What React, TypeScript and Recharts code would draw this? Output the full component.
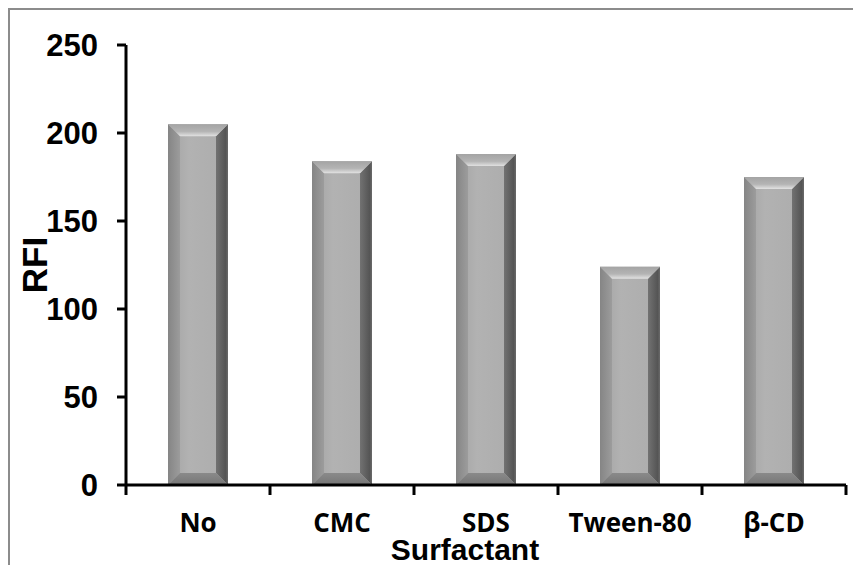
import React from 'react';
import { BarChart, Bar, XAxis, YAxis } from 'recharts';

const categories = ['No', 'CMC', 'SDS', 'Tween-80', 'β-CD'];
const rfiValues = [205, 184, 188, 124, 175];
const yTicks = [0, 50, 100, 150, 200, 250];

const data = categories.map((name, i) => ({ name, rfi: rfiValues[i] }));

const BevelBar = (props: any) => {
  const { x, y, width, height } = props;
  if (!height || height <= 0) return null;
  const b = Math.min(12, width / 2, height / 2);
  const x2 = x + width;
  const y2 = y + height;
  return (
    <g>
      <rect x={x} y={y} width={width} height={height} fill="url(#gCenter)" />
      <polygon points={`${x},${y} ${x + b},${y + b} ${x + b},${y2 - b} ${x},${y2}`} fill="url(#gLeft)" />
      <polygon points={`${x2},${y} ${x2 - b},${y + b} ${x2 - b},${y2 - b} ${x2},${y2}`} fill="url(#gRight)" />
      <polygon points={`${x},${y2} ${x + b},${y2 - b} ${x2 - b},${y2 - b} ${x2},${y2}`} fill="url(#gBottom)" />
      <polygon points={`${x},${y} ${x2},${y} ${x2 - b},${y + b} ${x + b},${y + b}`} fill="url(#gTop)" />
    </g>
  );
};

const XTick = (props: any) => {
  const { x, y, payload, index, visibleTicksCount } = props;
  const off = payload && typeof payload.offset === 'number' && payload.offset > 0 ? payload.offset : 72;
  const axisY = y - 29;
  return (
    <g>
      <line x1={x - off} y1={axisY} x2={x - off} y2={axisY + 10} stroke="#000" strokeWidth={3} />
      {index === visibleTicksCount - 1 && (
        <line x1={x + off} y1={axisY} x2={x + off} y2={axisY + 10} stroke="#000" strokeWidth={3} />
      )}
      <text
        x={x}
        y={y}
        dy="0.71em"
        textAnchor="middle"
        fontFamily="'Open Sans', sans-serif"
        fontWeight="bold"
        fontSize={26}
        fill="#000"
      >
        {payload.value}
      </text>
    </g>
  );
};

export default function App() {
  return (
    <div
      style={{
        position: 'absolute',
        left: 0,
        top: 0,
        width: 853,
        height: 565,
        overflow: 'hidden',
        background: '#fff',
      }}
    >
      <div
        style={{
          position: 'absolute',
          left: 8,
          top: 8,
          width: 900,
          height: 620,
          border: '2px solid #8c8c8c',
          boxSizing: 'border-box',
        }}
      />
      <div style={{ position: 'absolute', left: 0, top: 0 }}>
        <BarChart
          width={853}
          height={565}
          data={data}
          margin={{ top: 45, right: 7, bottom: 0, left: 0 }}
          barSize={60}
        >
          <defs>
            <linearGradient id="gCenter" x1="0" y1="0" x2="1" y2="0">
              <stop offset="0" stopColor="#a2a2a2" />
              <stop offset="0.35" stopColor="#b2b2b2" />
              <stop offset="1" stopColor="#acacac" />
            </linearGradient>
            <linearGradient id="gLeft" x1="0" y1="0" x2="1" y2="0">
              <stop offset="0" stopColor="#858585" />
              <stop offset="1" stopColor="#9c9c9c" />
            </linearGradient>
            <linearGradient id="gRight" x1="0" y1="0" x2="1" y2="0">
              <stop offset="0" stopColor="#727272" />
              <stop offset="0.8" stopColor="#555555" />
              <stop offset="1" stopColor="#6a6a6a" />
            </linearGradient>
            <linearGradient id="gBottom" x1="0" y1="0" x2="0" y2="1">
              <stop offset="0" stopColor="#8a8a8a" />
              <stop offset="1" stopColor="#767676" />
            </linearGradient>
            <linearGradient id="gTop" x1="0" y1="0" x2="0" y2="1">
              <stop offset="0" stopColor="#a4a4a4" />
              <stop offset="0.6" stopColor="#b4b4b4" />
              <stop offset="1" stopColor="#e2e2e2" />
            </linearGradient>
          </defs>
          <XAxis
            dataKey="name"
            height={80}
            axisLine={{ stroke: '#000', strokeWidth: 3 }}
            tickLine={false}
            tickSize={10}
            tickMargin={19}
            interval={0}
            tick={<XTick />}
            label={{
              content: () => (
                <text
                  x={465}
                  y={560}
                  textAnchor="middle"
                  fontFamily="'Liberation Sans', Arial, sans-serif"
                  fontWeight="bold"
                  fontSize={30}
                  fill="#000"
                >
                  Surfactant
                </text>
              ),
            }}
          />
          <YAxis
            width={126}
            domain={[0, 250]}
            ticks={yTicks}
            interval={0}
            axisLine={{ stroke: '#000', strokeWidth: 3 }}
            tickLine={{ stroke: '#000', strokeWidth: 3 }}
            tickSize={9}
            tickMargin={19}
            tick={{
              fontFamily: "'Liberation Sans', Arial, sans-serif",
              fontWeight: 'bold',
              fontSize: 31,
              fill: '#000',
            }}
            label={{
              content: () => (
                <text
                  x={47}
                  y={265}
                  transform="rotate(-90 47 265)"
                  textAnchor="middle"
                  fontFamily="'Liberation Sans', Arial, sans-serif"
                  fontWeight="bold"
                  fontSize={35}
                  fill="#000"
                >
                  RFI
                </text>
              ),
            }}
          />
          <Bar dataKey="rfi" shape={<BevelBar />} isAnimationActive={false} />
        </BarChart>
      </div>
    </div>
  );
}
